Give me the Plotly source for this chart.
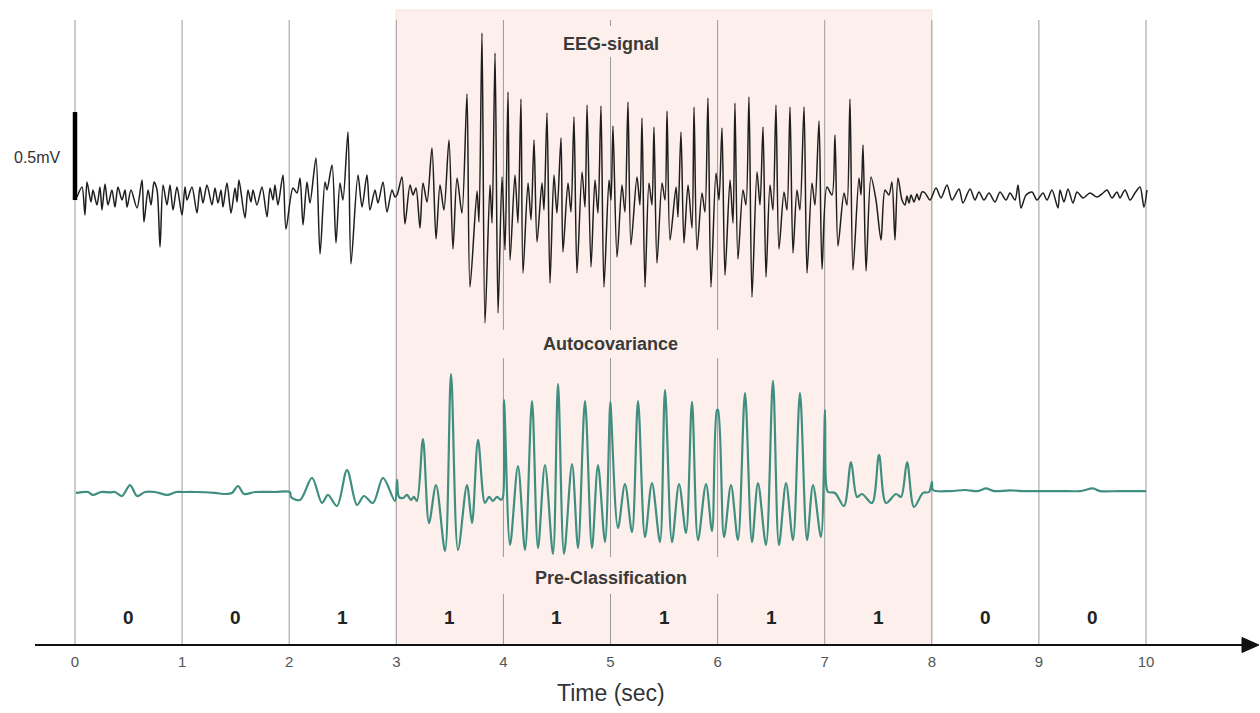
import plotly.graph_objects as go

# ---------------- data ----------------
# EEG trace: local extrema (time in s, amplitude in mV relative to the trace baseline)
eeg_t = [
    0.019, 0.065, 0.093, 0.112, 0.149, 0.168, 0.205, 0.233, 0.252, 0.280, 0.308, 0.345, 0.373, 0.401,
    0.439, 0.467, 0.486, 0.523, 0.579, 0.626, 0.644, 0.682, 0.710, 0.738, 0.766, 0.794, 0.822, 0.859,
    0.887, 0.915, 0.952, 0.999, 1.027, 1.046, 1.092, 1.139, 1.167, 1.195, 1.232, 1.279, 1.307, 1.335,
    1.363, 1.382, 1.419, 1.457, 1.494, 1.513, 1.531, 1.587, 1.615, 1.643, 1.662, 1.699, 1.746, 1.793,
    1.821, 1.849, 1.867, 1.895, 1.942, 1.970, 2.035, 2.073, 2.101, 2.129, 2.166, 2.194, 2.250, 2.288,
    2.334, 2.353, 2.400, 2.437, 2.474, 2.502, 2.549, 2.577, 2.642, 2.680, 2.726, 2.754, 2.801, 2.829,
    2.876, 2.913, 2.960, 2.988,
    3.007, 3.053, 3.081, 3.128, 3.156, 3.184, 3.221, 3.249, 3.287, 3.333, 3.371, 3.408, 3.445, 3.492,
    3.529, 3.567, 3.613, 3.660, 3.688, 3.754, 3.772, 3.800, 3.828, 3.875, 3.894, 3.922, 3.950, 3.987,
    4.015, 4.043, 4.062, 4.108, 4.136, 4.164, 4.183, 4.230, 4.258, 4.286, 4.314, 4.360, 4.379, 4.407,
    4.435, 4.472, 4.500, 4.538, 4.556, 4.603, 4.631, 4.659, 4.687, 4.734, 4.762, 4.781, 4.818, 4.855,
    4.883, 4.911, 4.939, 4.986, 5.005, 5.023, 5.061, 5.107, 5.135, 5.163, 5.191, 5.247, 5.275, 5.294,
    5.322, 5.359, 5.387, 5.406, 5.434, 5.481, 5.509, 5.528, 5.556, 5.612, 5.630, 5.658, 5.686, 5.724,
    5.761, 5.780, 5.808, 5.854, 5.882, 5.910, 5.938, 5.985, 6.013, 6.041, 6.069, 6.116, 6.144, 6.162,
    6.190, 6.237, 6.265, 6.293, 6.321, 6.368, 6.396, 6.424, 6.452, 6.489, 6.517, 6.545, 6.573, 6.620,
    6.648, 6.676, 6.704, 6.741, 6.769, 6.807, 6.835, 6.881, 6.909, 6.947, 6.975, 7.021, 7.068, 7.096,
    7.124, 7.180, 7.208, 7.236, 7.264, 7.320, 7.339, 7.358, 7.386, 7.432, 7.479, 7.526, 7.563, 7.600,
    7.628, 7.656, 7.684, 7.722, 7.750, 7.768, 7.787, 7.806, 7.834, 7.862, 7.881, 7.909,
    7.937, 7.983, 8.039, 8.086, 8.142, 8.189, 8.254, 8.291, 8.357, 8.403, 8.441, 8.487, 8.534, 8.590,
    8.637, 8.693, 8.730, 8.777, 8.805, 8.833, 8.880, 8.936, 8.982, 9.038, 9.076, 9.122, 9.178, 9.197,
    9.234, 9.272, 9.318, 9.356, 9.412, 9.477, 9.543, 9.599, 9.636, 9.683, 9.729, 9.757, 9.804, 9.851,
    9.897, 9.944, 9.981, 10.009,
]
eeg_mv = [
    -0.023, 0.034, -0.125, 0.063, -0.051, 0.017, -0.068, 0.034, -0.097, 0.051, -0.068, 0.017, -0.080, 0.034,
    -0.040, 0.017, -0.080, 0.017, -0.085, 0.074, -0.165, 0.017, -0.068, 0.063, 0.017, -0.307, 0.045, -0.068,
    0.045, -0.097, 0.034, -0.125, 0.034, -0.040, 0.034, -0.114, 0.034, -0.057, 0.045, -0.068, 0.028, -0.057,
    0.017, -0.080, 0.057, -0.114, 0.028, -0.051, 0.074, -0.142, 0.017, -0.051, 0.017, -0.068, 0.034, -0.136,
    0.028, -0.040, 0.045, -0.068, 0.102, -0.205, 0.028, 0.000, 0.085, -0.182, 0.063, -0.057, 0.199, -0.347,
    0.063, 0.017, 0.159, -0.284, 0.057, -0.040, 0.347, -0.403, 0.102, -0.080, 0.102, -0.097, 0.017, -0.057,
    0.063, -0.108, 0.017, -0.023,
    -0.011, 0.091, -0.176, 0.045, -0.011, 0.028, -0.199, 0.057, -0.051, 0.256, -0.261, 0.045, -0.097, 0.301,
    -0.318, 0.085, -0.114, 0.563, -0.534, 0.011, -0.165, 0.909, -0.739, 0.045, -0.170, 0.795, -0.682, 0.091,
    -0.324, 0.574, -0.381, 0.102, -0.170, 0.534, -0.455, 0.057, -0.153, 0.301, -0.278, 0.057, -0.097, 0.455,
    -0.511, 0.102, -0.114, 0.313, -0.335, 0.057, -0.108, 0.432, -0.455, 0.119, -0.080, 0.500, -0.420, 0.074,
    -0.114, 0.494, -0.534, 0.074, -0.040, 0.381, -0.364, 0.045, -0.108, 0.517, -0.295, 0.091, -0.068, 0.426,
    -0.534, 0.057, -0.068, 0.375, -0.398, 0.057, -0.040, 0.466, -0.267, 0.034, -0.136, 0.347, -0.284, 0.045,
    -0.199, 0.489, -0.324, 0.000, -0.108, 0.540, -0.534, 0.114, -0.040, 0.369, -0.466, 0.074, -0.170, 0.511,
    -0.375, 0.017, -0.068, 0.545, -0.591, 0.119, -0.068, 0.375, -0.477, 0.045, -0.097, 0.500, -0.318, 0.006,
    -0.097, 0.489, -0.341, 0.017, -0.097, 0.489, -0.455, 0.057, -0.068, 0.409, -0.432, 0.034, -0.011, 0.330,
    -0.301, 0.000, -0.068, 0.534, -0.438, 0.085, -0.011, 0.273, -0.443, 0.091, -0.040, -0.267, 0.017, -0.011,
    0.063, -0.267, 0.085, -0.040, -0.068, -0.017, -0.057, -0.011, -0.051, -0.006, -0.040, 0.006,
    0.000, -0.040, 0.028, -0.028, 0.045, -0.040, 0.023, -0.057, 0.023, -0.040, 0.006, -0.040, 0.000, -0.051,
    0.006, -0.040, 0.000, -0.040, 0.045, -0.085, -0.011, 0.006, -0.040, 0.000, -0.040, 0.017, -0.085, 0.017,
    -0.051, 0.023, -0.057, 0.006, -0.028, 0.000, -0.023, 0.000, 0.017, -0.028, 0.006, -0.028, 0.017, -0.040,
    0.000, 0.034, -0.080, 0.017,
]

# Windowed autocovariance (1-s windows), normalised to the largest central peak
acov_t = [
    0.009, 0.121, 0.168, 0.243, 0.327, 0.373, 0.439, 0.514, 0.579, 0.654, 0.747, 0.868, 0.943, 1.008,
    1.120, 1.307, 1.410, 1.466, 1.522, 1.578, 1.681, 1.867, 2.007,
    2.017, 2.101, 2.213, 2.306, 2.362, 2.446, 2.540, 2.633, 2.698, 2.782, 2.876, 2.988,
    3.007, 3.025, 3.063, 3.100, 3.137, 3.165, 3.193, 3.249, 3.305, 3.371, 3.455, 3.511, 3.576, 3.660,
    3.707, 3.763, 3.828, 3.866, 3.903, 3.940, 3.978, 3.996,
    4.006, 4.062, 4.136, 4.202, 4.267, 4.323, 4.388, 4.463, 4.510, 4.566, 4.641, 4.697, 4.762, 4.827,
    4.883, 4.949, 4.998,
    5.005, 5.070, 5.135, 5.201, 5.257, 5.322, 5.387, 5.462, 5.509, 5.574, 5.640, 5.705, 5.761, 5.817,
    5.892, 5.948, 5.994,
    6.004, 6.060, 6.125, 6.190, 6.256, 6.321, 6.377, 6.452, 6.517, 6.573, 6.639, 6.704, 6.769, 6.835,
    6.891, 6.965, 7.003,
    7.012, 7.031, 7.096, 7.180, 7.246, 7.302, 7.348, 7.442, 7.507, 7.572, 7.666, 7.713, 7.769, 7.834,
    7.918, 7.974, 8.002,
    8.011, 8.170, 8.310, 8.431, 8.506, 8.581, 8.730, 8.870, 9.001, 9.197, 9.384, 9.505, 9.570, 9.757,
    10.000,
]
acov_val = [
    -0.008, 0.000, -0.025, 0.000, -0.004, 0.000, -0.034, 0.059, -0.034, 0.000, 0.000, -0.025, 0.000, 0.000,
    0.000, -0.008, -0.017, -0.008, 0.051, -0.017, 0.000, 0.000, 0.000,
    -0.042, -0.068, 0.119, -0.093, -0.025, -0.119, 0.186, -0.110, -0.034, -0.093, 0.119, -0.076,
    0.102, -0.042, -0.051, -0.025, -0.068, -0.042, -0.076, 0.449, -0.263, 0.059, -0.500, 1.000, -0.492, 0.059,
    -0.263, 0.441, -0.093, -0.042, -0.076, -0.042, -0.068, -0.042,
    0.780, -0.449, 0.220, -0.492, 0.771, -0.475, 0.229, -0.525, 0.915, -0.525, 0.237, -0.475, 0.771, -0.475,
    0.229, -0.424, 0.763,
    0.678, -0.305, 0.068, -0.339, 0.771, -0.381, 0.076, -0.424, 0.864, -0.424, 0.068, -0.347, 0.763, -0.407,
    0.068, -0.331, 0.695,
    0.695, -0.381, 0.059, -0.407, 0.839, -0.424, 0.076, -0.449, 0.941, -0.449, 0.076, -0.407, 0.839, -0.407,
    0.059, -0.381, 0.695,
    0.076, 0.000, -0.008, -0.119, 0.254, -0.042, -0.017, -0.093, 0.314, -0.093, -0.017, -0.042, 0.254, -0.127,
    -0.008, 0.000, 0.085,
    0.017, 0.008, 0.017, 0.008, 0.030, 0.008, 0.013, 0.008, 0.008, 0.008, 0.008, 0.030, 0.008, 0.008,
    0.008,
]

# Per-second pre-classification (1 = seizure-like activity)
class_labels = [0, 0, 1, 1, 1, 1, 1, 1, 0, 0]
seconds = list(range(11))
seizure_span = (3, 8)
scale_bar_mv = 0.5

# ---------------- layout helpers ----------------
W, H = 1260, 713


def py(px):
    """Vertical pixel position -> paper fraction."""
    return 1 - px / H


AXIS_PX = 645
LINE_COL = "#9a9a9a"
FONT = "Liberation Sans, Arial, sans-serif"

fig = go.Figure()

fig.add_trace(go.Scatter(
    x=eeg_t, y=eeg_mv, mode="lines",
    line=dict(color="#1e1e1e", width=1.5, shape="spline", smoothing=0.8),
    hoverinfo="skip", showlegend=False, yaxis="y",
))
fig.add_trace(go.Scatter(
    x=acov_t, y=acov_val, mode="lines",
    line=dict(color="#3f8e80", width=2.2, shape="spline", smoothing=0.9),
    hoverinfo="skip", showlegend=False, yaxis="y2",
))

shapes = []
# shaded seizure interval
shapes.append(dict(
    type="rect", xref="x", yref="paper", x0=seizure_span[0], x1=seizure_span[1],
    y0=py(AXIS_PX), y1=py(10), fillcolor="#fdf0ec",
    line=dict(color="#f6e0da", width=1), layer="below",
))
# vertical second markers, interrupted where the panel titles sit
gaps_by_second = {
    4: [(330, 358), (557, 594)],
    5: [(26, 57), (330, 358), (557, 594)],
    6: [(330, 358), (557, 594)],
}
for s in seconds:
    top = 20
    pieces = []
    for g0, g1 in gaps_by_second.get(s, []):
        pieces.append((top, g0))
        top = g1
    pieces.append((top, AXIS_PX))
    for a, b in pieces:
        shapes.append(dict(
            type="line", xref="x", yref="paper", x0=s, x1=s, y0=py(a), y1=py(b),
            line=dict(color=LINE_COL, width=1), layer="below",
        ))
# 0.5 mV scale bar
shapes.append(dict(
    type="line", xref="x", yref="y", x0=0, x1=0, y0=-0.04, y1=-0.04 + scale_bar_mv,
    line=dict(color="#000000", width=4.5), layer="above",
))
# arrow head at the end of the time axis
shapes.append(dict(
    type="path", xref="paper", yref="paper",
    path=f"M {1242/W} {py(AXIS_PX-7.5)} L {1259/W} {py(AXIS_PX)} L {1242/W} {py(AXIS_PX+7.5)} Z",
    fillcolor="#111111", line=dict(color="#111111", width=1),
))

annotations = []
title_font = dict(family=FONT, size=18, color="#3a3a3a")
for text, ypx in [("<b>EEG-signal</b>", 44), ("<b>Autocovariance</b>", 344),
                  ("<b>Pre-Classification</b>", 578)]:
    annotations.append(dict(
        text=text, x=5, xref="x", y=py(ypx), yref="paper", showarrow=False,
        font=title_font, xanchor="center", yanchor="middle",
    ))
for i, lab in enumerate(class_labels):
    annotations.append(dict(
        text=f"<b>{lab}</b>", x=seconds[i] + 0.5, xref="x", y=py(617), yref="paper",
        showarrow=False, font=dict(family=FONT, size=19, color="#222222"),
        xanchor="center", yanchor="middle",
    ))
annotations.append(dict(
    text="0.5mV", x=37 / W, xref="paper", y=py(157), yref="paper", showarrow=False,
    font=dict(family=FONT, size=16, color="#333333"), xanchor="center", yanchor="middle",
))
annotations.append(dict(
    text="Time (sec)", x=5, xref="x", y=py(693), yref="paper", showarrow=False,
    font=dict(family=FONT, size=23, color="#333333"), xanchor="center", yanchor="middle",
))

# x mapping: 0 s at 75 px, 10 s at 1146 px; axis line spans 35..1245 px
px_per_s = (1146 - 75) / 10
x_lo = (35 - 75) / px_per_s
x_hi = (1245 - 75) / px_per_s

# EEG: baseline at 193 px, 0.5 mV = 88 px
mv_px = 176
# Autocovariance: baseline at 492 px, unit peak = 118 px
ac_px = 118

fig.update_layout(
    width=W, height=H,
    margin=dict(l=0, r=0, t=0, b=0),
    paper_bgcolor="white", plot_bgcolor="rgba(0,0,0,0)",
    showlegend=False,
    xaxis=dict(
        domain=[35 / W, 1245 / W], range=[x_lo, x_hi],
        anchor="free", position=py(AXIS_PX),
        showline=True, linecolor="#111111", linewidth=2,
        showgrid=False, zeroline=False, ticks="",
        tickmode="array", tickvals=seconds, ticktext=[str(s) for s in seconds],
        tickfont=dict(family=FONT, size=15, color="#555555"),
        ticklabelstandoff=3, automargin=False, fixedrange=True,
    ),
    yaxis=dict(
        domain=[0, 1], range=[-(H - 193) / mv_px, 193 / mv_px],
        visible=False, fixedrange=True,
    ),
    yaxis2=dict(
        domain=[0, 1], range=[-(H - 492) / ac_px, 492 / ac_px],
        overlaying="y", visible=False, fixedrange=True,
    ),
    shapes=shapes,
    annotations=annotations,
)

fig.write_html("out.html")
